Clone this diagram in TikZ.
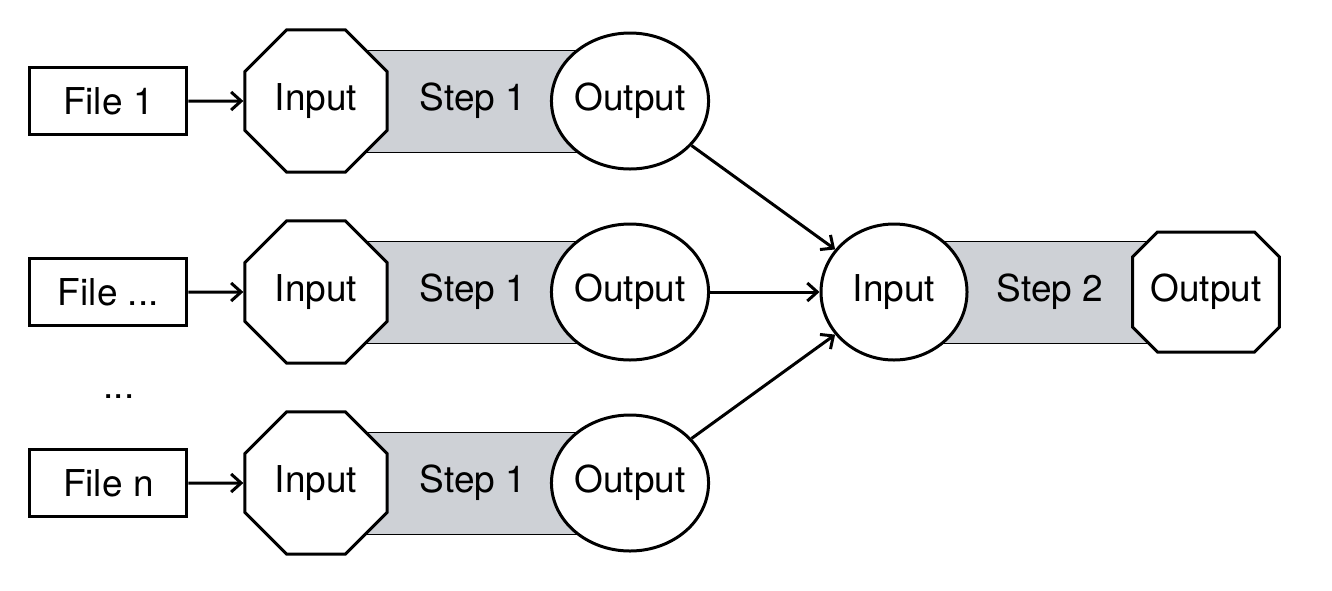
\documentclass[tikz,border=0pt]{standalone}
\usepackage{fontspec}
\setmainfont{TeX Gyre Heros}
\usepackage{tikz}
\usetikzlibrary{positioning,calc,shapes.geometric,shapes.misc,arrows.meta,backgrounds}
\definecolor{stepgray}{RGB}{206,209,214}

\begin{document}
\begin{tikzpicture}[
  x=0.5pt, y=-0.5pt,
  font=\fontsize{18.5pt}{22pt}\selectfont,
  line width=1.5pt,
  filebox/.style={rectangle, draw, minimum width=78.5pt, minimum height=33.5pt, inner sep=0pt},
  octa/.style={regular polygon, regular polygon sides=8, draw, fill=white, minimum size=77pt, inner sep=0pt},
  oval/.style={ellipse, draw, fill=white, minimum width=73pt, minimum height=68pt, inner sep=0pt},
  octb/.style={chamfered rectangle, chamfered rectangle xsep=11pt, draw, fill=white, minimum width=72.5pt, minimum height=60pt, inner sep=0pt},
  bar/.style={rectangle, draw, fill=stepgray, minimum width=157pt, minimum height=51pt},
  flow/.style={-{Straight Barb[length=5pt,width=9pt]}}
]
\useasboundingbox (0,0) rectangle (1332,590);

% Left: one Step 1 per file
\node[octa] (in1) at (316,101) {Input};
\node[oval] (out1) at (630,101) {Output};
\node[filebox, left=27.5pt of in1] (file1) {File 1};

\node[octa] (in2) at (316,292) {Input};
\node[oval] (out2) at (630,292) {Output};
\node[filebox, left=27.5pt of in2] (file2) {File ...};

\node (dots) at (119,397) {...};

\node[octa] (in3) at (316,483) {Input};
\node[oval] (out3) at (630,483) {Output};
\node[filebox, left=27.5pt of in3] (file3) {File n};

% Right: Step 2 joins the outputs
\node[oval] (join) at (894,292) {Input};
\node[octb] (result) at (1206,292) {Output};

\begin{scope}[on background layer]
\node[bar] (stepa) at ($(in1)!0.5!(out1)$) {Step 1};
\node[bar] (stepb) at ($(in2)!0.5!(out2)$) {Step 1};
\node[bar] (stepc) at ($(in3)!0.5!(out3)$) {Step 1};
\node[bar] (stepd) at ($(join)!0.5!(result)$) {Step 2};
\end{scope}

\draw[flow] (file1) -- (in1);
\draw[flow] (file2) -- (in2);
\draw[flow] (file3) -- (in3);
\draw[flow] (out1) -- (join);
\draw[flow] (out2) -- (join);
\draw[flow] (out3) -- (join);
\end{tikzpicture}
\end{document}
